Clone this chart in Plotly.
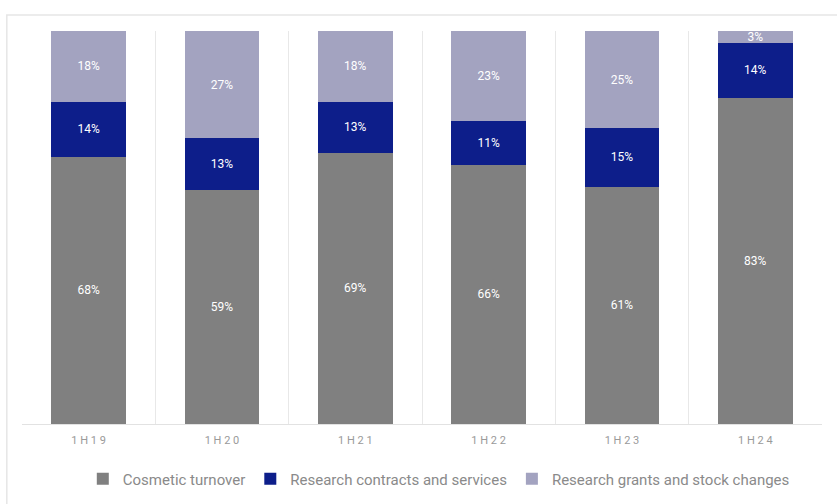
import plotly.graph_objects as go

periods = ["1H19", "1H20", "1H21", "1H22", "1H23", "1H24"]
cosmetic = [68, 59, 69, 66, 61, 83]
contracts = [14, 13, 13, 11, 15, 14]
grants = [18, 27, 18, 23, 25, 3]

series = [
    ("Cosmetic turnover", cosmetic, "#808080"),
    ("Research contracts and services", contracts, "#0D1E8A"),
    ("Research grants and stock changes", grants, "#A3A3C0"),
]

fig = go.Figure()
for name, vals, color in series:
    fig.add_trace(go.Bar(
        x=periods, y=vals, name=name,
        marker=dict(color=color, line=dict(width=0)),
        text=[f"{v}%" for v in vals],
        textposition="inside", insidetextanchor="middle",
        textfont=dict(color="white", size=12, family="Roboto"),
        cliponaxis=False,
    ))

# card outline around the chart
fig.add_shape(type="rect", xref="paper", yref="paper",
              x0=-0.019, x1=1.2, y0=-0.3, y1=1.041,
              line=dict(color="#E6E6E6", width=1.5), fillcolor="rgba(0,0,0,0)",
              layer="below")

fig.update_layout(
    barmode="stack", barnorm="percent", bargap=0.44,
    width=837, height=504,
    margin=dict(l=22, r=15, t=31, b=80, autoexpand=False),
    paper_bgcolor="white", plot_bgcolor="white",
    font=dict(family="Roboto", color="#8A8A8A"),
    uniformtext=dict(minsize=11, mode="show"),
    showlegend=True,
    legend=dict(orientation="h", x=0.076, xanchor="left", y=-0.098, yanchor="top",
                font=dict(size=15, color="#8A8A8A"), traceorder="normal",
                itemwidth=30, tracegroupgap=0),
)
fig.update_xaxes(
    type="category", tickson="boundaries", showgrid=True, gridcolor="#E8E8E8", gridwidth=1,
    showline=True, linecolor="#E2E2E2", linewidth=1, ticks="", ticklen=0,
    ticklabelstandoff=6,
    tickfont=dict(size=11, color="#9A9A9A", family="Roboto"),
    tickvals=periods, ticktext=[" ".join(p) for p in periods],
    range=[-0.5, 5.5], fixedrange=True,
)
fig.update_yaxes(range=[0, 100], showgrid=False, showticklabels=False, zeroline=False,
                 showline=False, fixedrange=True)

fig.write_html("out.html")
